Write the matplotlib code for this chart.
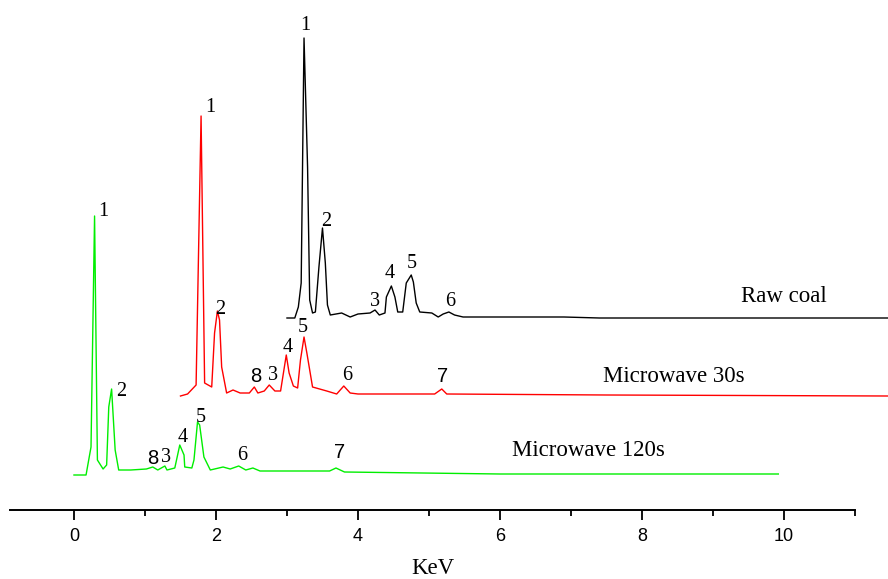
import numpy as np
import matplotlib.pyplot as plt
from matplotlib.ticker import MultipleLocator

# EDS spectra (energy in keV, counts in arbitrary units)
green_kev = [0.00, 0.17, 0.24, 0.29, 0.33, 0.41, 0.46, 0.49, 0.53, 0.58,
             0.63, 0.80, 1.02, 1.11, 1.18, 1.28, 1.31, 1.42, 1.49, 1.55,
             1.56, 1.66, 1.69, 1.74, 1.77, 1.83, 1.92, 2.10, 2.20, 2.32,
             2.42, 2.52, 2.62, 3.60, 3.69, 3.81, 6.00, 9.92]
green_cts = [1, 1, 29, 260, 16, 7, 11, 69, 87, 26,
             6, 6, 7, 9, 6, 10, 6, 8, 31, 21,
             9, 8, 16, 54, 51, 19, 6, 9, 7, 10,
             6, 8, 5, 5, 8, 4, 2, 2]

red_kev = [0.00, 0.10, 0.22, 0.29, 0.34, 0.44, 0.48, 0.52, 0.55, 0.58,
           0.65, 0.74, 0.84, 0.97, 1.04, 1.09, 1.18, 1.25, 1.33, 1.41,
           1.49, 1.53, 1.59, 1.65, 1.69, 1.74, 1.78, 1.86, 2.06, 2.20,
           2.30, 2.39, 2.50, 3.58, 3.68, 3.75, 6.00, 9.96]
red_cts = [0, 2, 11, 280, 13, 9, 63, 85, 76, 29,
           3, 6, 3, 3, 9, 3, 5, 11, 5, 5,
           41, 23, 10, 8, 36, 59, 43, 9, 5, 2,
           10, 3, 2, 2, 7, 2, 1, 0]

black_kev = [0.00, 0.11, 0.16, 0.20, 0.24, 0.29, 0.32, 0.36, 0.40, 0.45,
             0.50, 0.54, 0.57, 0.61, 0.77, 0.89, 1.00, 1.17, 1.24, 1.30,
             1.38, 1.40, 1.47, 1.52, 1.56, 1.63, 1.68, 1.75, 1.78, 1.82,
             1.87, 2.04, 2.13, 2.20, 2.28, 2.36, 2.48, 3.90, 4.40, 10.0]
black_cts = [0, 0, 11, 35, 280, 151, 18, 5, 6, 51,
             90, 55, 13, 3, 5, 1, 4, 5, 8, 3,
             5, 21, 32, 21, 6, 6, 35, 43, 36, 15,
             6, 5, 1, 4, 6, 3, 1, 1, 0, 0]

# peak labels: number -> energy (keV)
green_peaks = {'1': 0.29, '2': 0.53, '8': 1.11, '3': 1.28, '4': 1.49,
               '5': 1.74, '6': 2.32, '7': 3.69}
red_peaks = {'1': 0.29, '2': 0.52, '8': 1.04, '3': 1.25, '4': 1.49,
             '5': 1.74, '6': 2.30, '7': 3.68}
black_peaks = {'1': 0.24, '2': 0.50, '3': 1.24, '4': 1.47, '5': 1.75,
               '6': 2.28}

names = ['Microwave 120s', 'Microwave 30s', 'Raw coal']

# label offsets from the peak top, in pixels (dx, up)
green_off = {'1': (9, 4), '2': (10, -3), '8': (0, 9), '3': (1, 9),
             '4': (3, 8), '5': (3, 4), '6': (3, 11), '7': (4, 15)}
red_off = {'1': (9, 8), '2': (3, 1), '8': (1, 10), '3': (4, 9),
           '4': (1, 8), '5': (-1, 10), '6': (3, 11), '7': (1, 13)}
black_off = {'1': (1, 13), '2': (4, 6), '3': (0, 8), '4': (-2, 13),
             '5': (1, 12), '6': (1, 10)}

serif = 'Liberation Serif'
sans = 'Liberation Sans'

fig = plt.figure(figsize=(8.88, 5.79), dpi=100)
ax = fig.add_axes([10 / 888, 69 / 579, 845 / 888, 510 / 579])

spectra = [
    (green_kev, green_cts, 0.0, 34, '#00ee00', green_peaks, green_off),
    (red_kev, red_cts, 1.5, 114, '#ff0000', red_peaks, red_off),
    (black_kev, black_cts, 3.0, 192, 'black', black_peaks, black_off),
]

for kev, cts, shift, base, col, peaks, offs in spectra:
    x = np.array(kev) + shift
    y = np.array(cts) + base
    ax.plot(x, y, color=col, lw=1.0, clip_on=False)
    for lab, e in peaks.items():
        py = np.interp(e, kev, cts) + base
        dx, dy = offs[lab]
        fam = sans if lab in ('7', '8') else serif
        ax.annotate(lab, xy=(e + shift, py), xytext=(dx * 0.72, dy * 0.72),
                    textcoords='offset points', ha='center', va='center',
                    fontsize=14.5, family=fam, annotation_clip=False)

ax.text(7.25, 59, names[0], family=serif, fontsize=16.5, ha='center', va='center')
ax.text(8.45, 134, names[1], family=serif, fontsize=16.5, ha='center', va='center')
ax.text(10.0, 214, names[2], family=serif, fontsize=16.5, ha='center', va='center')

ax.set_xlim(-0.901, 11.0)
ax.set_ylim(0, 510)
for s in ['left', 'right', 'top']:
    ax.spines[s].set_visible(False)
ax.spines['bottom'].set_linewidth(1.4)
ax.set_yticks([])
ax.xaxis.set_major_locator(MultipleLocator(2))
ax.xaxis.set_minor_locator(MultipleLocator(1))
ax.set_xticks([0, 2, 4, 6, 8, 10])
ax.tick_params(axis='x', which='major', length=7, width=1.3, pad=6, labelsize=13)
ax.tick_params(axis='x', which='minor', length=4.5, width=1.3)
for t in ax.get_xticklabels():
    t.set_family(sans)
ax.set_xlabel('KeV', family=serif, fontsize=16.5, labelpad=9)

fig.savefig('out.png', dpi=100)
